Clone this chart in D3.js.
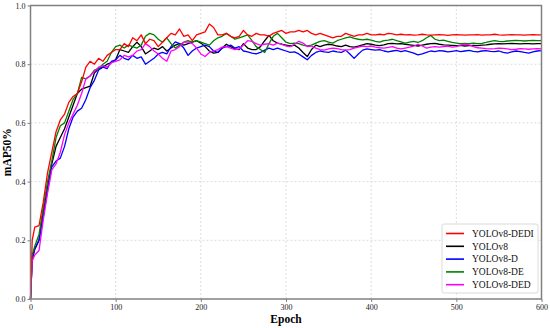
<!DOCTYPE html>
<html>
<head>
<meta charset="utf-8">
<script src="https://cdn.jsdelivr.net/npm/d3@7"></script>
<style>
  body { margin: 0; background: #fff; }
  svg { display: block; }
</style>
</head>
<body>
<div id="chart"></div>
<script>
// epochs sampled from the curves (0, 2, then every 5)
const epochs = [0, 2].concat(d3.range(5, 601, 5));

const dedi = [
  0, 0.20, 0.245, 0.25, 0.33, 0.43, 0.50, 0.57, 0.61, 0.63,
  0.67, 0.69, 0.70, 0.74, 0.79, 0.81, 0.80, 0.82, 0.81, 0.83,
  0.84, 0.85, 0.85, 0.87, 0.86, 0.89, 0.88, 0.90, 0.87, 0.885,
  0.88, 0.86, 0.875, 0.89, 0.905, 0.90, 0.92, 0.895, 0.90, 0.88,
  0.90, 0.905, 0.91, 0.937, 0.925, 0.90, 0.90, 0.905, 0.895, 0.89,
  0.895, 0.915, 0.90, 0.895, 0.905, 0.90, 0.90, 0.895, 0.905, 0.91,
  0.915, 0.905, 0.91, 0.91, 0.915, 0.91, 0.915, 0.905, 0.90, 0.905,
  0.90, 0.895, 0.89, 0.895, 0.895, 0.905, 0.90, 0.895, 0.90, 0.90,
  0.905, 0.90, 0.90, 0.902, 0.90, 0.905, 0.903, 0.90, 0.902, 0.90,
  0.901, 0.899, 0.90, 0.902, 0.90, 0.899, 0.90, 0.901, 0.90, 0.898,
  0.90, 0.901, 0.90, 0.899, 0.90, 0.90, 0.901, 0.899, 0.90, 0.90,
  0.902, 0.90, 0.899, 0.90, 0.901, 0.90, 0.90, 0.899, 0.90, 0.901,
  0.90, 0.90
];
const v8 = [
  0, 0.14, 0.17, 0.20, 0.30, 0.38, 0.46, 0.52, 0.55, 0.58,
  0.62, 0.66, 0.70, 0.715, 0.72, 0.725, 0.77, 0.785, 0.79, 0.80,
  0.805, 0.815, 0.85, 0.845, 0.84, 0.86, 0.875, 0.86, 0.835, 0.845,
  0.855, 0.85, 0.86, 0.845, 0.855, 0.865, 0.87, 0.865, 0.87, 0.875,
  0.88, 0.872, 0.86, 0.845, 0.838, 0.84, 0.855, 0.868, 0.86, 0.852,
  0.85, 0.87, 0.855, 0.85, 0.85, 0.86, 0.88, 0.898, 0.88, 0.872,
  0.868, 0.865, 0.862, 0.865, 0.855, 0.84, 0.826, 0.85, 0.865, 0.86,
  0.865, 0.868, 0.866, 0.862, 0.86, 0.865, 0.86, 0.858, 0.862, 0.866,
  0.87, 0.868, 0.865, 0.863, 0.866, 0.87, 0.871, 0.869, 0.87, 0.868,
  0.866, 0.864, 0.862, 0.865, 0.868, 0.87, 0.871, 0.868, 0.866, 0.865,
  0.864, 0.863, 0.864, 0.862, 0.863, 0.864, 0.863, 0.865, 0.866, 0.868,
  0.869, 0.87, 0.869, 0.87, 0.871, 0.87, 0.869, 0.87, 0.87, 0.869,
  0.87, 0.87
];
const d = [
  0, 0.13, 0.17, 0.20, 0.28, 0.37, 0.45, 0.47, 0.48, 0.52,
  0.58, 0.62, 0.64, 0.65, 0.68, 0.72, 0.745, 0.78, 0.79, 0.785,
  0.81, 0.815, 0.83, 0.82, 0.815, 0.83, 0.82, 0.825, 0.80, 0.81,
  0.82, 0.835, 0.84, 0.835, 0.86, 0.876, 0.87, 0.855, 0.83, 0.845,
  0.855, 0.86, 0.865, 0.86, 0.845, 0.84, 0.855, 0.86, 0.865, 0.855,
  0.86, 0.845, 0.842, 0.838, 0.835, 0.84, 0.848, 0.855, 0.85, 0.855,
  0.85, 0.845, 0.84, 0.842, 0.835, 0.825, 0.815, 0.83, 0.84, 0.845,
  0.842, 0.84, 0.845, 0.842, 0.84, 0.848, 0.835, 0.82, 0.835, 0.848,
  0.852, 0.85, 0.848, 0.85, 0.845, 0.842, 0.845, 0.847, 0.843, 0.846,
  0.842, 0.838, 0.832, 0.835, 0.84, 0.845, 0.843, 0.846, 0.845, 0.842,
  0.844, 0.846, 0.843, 0.845, 0.847, 0.844, 0.842, 0.845, 0.846, 0.844,
  0.843, 0.845, 0.84, 0.838, 0.842, 0.845, 0.843, 0.84, 0.838, 0.842,
  0.845, 0.846
];
const de = [
  0, 0.15, 0.18, 0.22, 0.31, 0.40, 0.47, 0.55, 0.59, 0.60,
  0.64, 0.68, 0.70, 0.755, 0.75, 0.76, 0.78, 0.785, 0.80, 0.81,
  0.84, 0.86, 0.865, 0.855, 0.865, 0.86, 0.855, 0.865, 0.895, 0.905,
  0.90, 0.885, 0.875, 0.89, 0.87, 0.855, 0.865, 0.875, 0.88, 0.875,
  0.88, 0.875, 0.87, 0.865, 0.88, 0.89, 0.895, 0.905, 0.895, 0.885,
  0.89, 0.895, 0.90, 0.88, 0.86, 0.85, 0.84, 0.87, 0.895, 0.905,
  0.89, 0.875, 0.87, 0.872, 0.87, 0.865, 0.862, 0.865, 0.872, 0.878,
  0.88, 0.875, 0.872, 0.88, 0.885, 0.89, 0.893, 0.888, 0.885, 0.883,
  0.885, 0.882, 0.878, 0.875, 0.88, 0.882, 0.885, 0.88, 0.876, 0.872,
  0.875, 0.878, 0.874, 0.88, 0.89, 0.898, 0.885, 0.88, 0.882, 0.878,
  0.874, 0.872, 0.87, 0.871, 0.87, 0.872, 0.87, 0.871, 0.874, 0.878,
  0.88, 0.878, 0.877, 0.879, 0.88, 0.881, 0.88, 0.879, 0.88, 0.881,
  0.88, 0.88
];
const ded = [
  0, 0.13, 0.15, 0.165, 0.27, 0.36, 0.44, 0.46, 0.50, 0.56,
  0.60, 0.63, 0.66, 0.70, 0.75, 0.76, 0.775, 0.79, 0.795, 0.79,
  0.805, 0.81, 0.815, 0.83, 0.825, 0.83, 0.845, 0.85, 0.87, 0.86,
  0.845, 0.835, 0.82, 0.81, 0.845, 0.85, 0.86, 0.875, 0.876, 0.87,
  0.855, 0.835, 0.826, 0.84, 0.845, 0.85, 0.858, 0.86, 0.855, 0.85,
  0.852, 0.865, 0.88, 0.878, 0.87, 0.865, 0.868, 0.87, 0.865, 0.872,
  0.868, 0.862, 0.86, 0.868, 0.878, 0.872, 0.86, 0.862, 0.855, 0.85,
  0.848, 0.852, 0.855, 0.853, 0.85, 0.848, 0.85, 0.855, 0.858, 0.862,
  0.86, 0.862, 0.858, 0.856, 0.855, 0.857, 0.86, 0.855, 0.852, 0.855,
  0.858, 0.862, 0.868, 0.862, 0.855, 0.858, 0.86, 0.858, 0.86, 0.862,
  0.858, 0.86, 0.865, 0.868, 0.866, 0.86, 0.856, 0.855, 0.853, 0.852,
  0.853, 0.855, 0.854, 0.852, 0.85, 0.851, 0.853, 0.852, 0.851, 0.852,
  0.853, 0.852
];

const legendNames = ["YOLOv8-DEDI", "YOLOv8", "YOLOv8-D", "YOLOv8-DE", "YOLOv8-DED"];
const legendColors = ["#ff0000", "#000000", "#0000ff", "#008000", "#ff00ff"];
const seriesValues = [dedi, v8, d, de, ded];
const drawOrder = [1, 2, 3, 4, 0];

const xTicks = [0, 100, 200, 300, 400, 500, 600];
const yTicks = [0, 0.2, 0.4, 0.6, 0.8, 1.0];

const width = 550, height = 328;
const margin = { top: 5.5, right: 8.5, bottom: 29, left: 30.5 };
const font = "'Liberation Serif', 'Times New Roman', serif";

const svg = d3.select("#chart").append("svg")
  .attr("width", width)
  .attr("height", height);

const x = d3.scaleLinear().domain([0, 600]).range([margin.left, width - margin.right]);
const y = d3.scaleLinear().domain([0, 1]).range([height - margin.bottom, margin.top]);

// grid
svg.append("g")
  .selectAll("line")
  .data(xTicks.slice(1, -1))
  .join("line")
  .attr("x1", v => x(v)).attr("x2", v => x(v))
  .attr("y1", y(0)).attr("y2", y(1))
  .attr("stroke", "#d4d4d4").attr("stroke-width", 0.8)
  .attr("stroke-dasharray", "2,2");

svg.append("g")
  .selectAll("line")
  .data(yTicks.slice(1, -1))
  .join("line")
  .attr("x1", x(0)).attr("x2", x(600))
  .attr("y1", v => y(v)).attr("y2", v => y(v))
  .attr("stroke", "#d4d4d4").attr("stroke-width", 0.8)
  .attr("stroke-dasharray", "2,2");

// lines
const line = d3.line()
  .defined(v => v != null)
  .x((v, i) => x(epochs[i]))
  .y(v => y(v));

svg.append("g")
  .selectAll("path")
  .data(drawOrder)
  .join("path")
  .attr("d", k => line(seriesValues[k]))
  .attr("fill", "none")
  .attr("stroke", k => legendColors[k])
  .attr("stroke-width", 1.3)
  .attr("stroke-linejoin", "round");

// frame
svg.append("rect")
  .attr("x", x(0)).attr("y", y(1))
  .attr("width", x(600) - x(0))
  .attr("height", y(0) - y(1))
  .attr("fill", "none")
  .attr("stroke", "#808080")
  .attr("stroke-width", 1.5);

// axes
const xAxis = svg.append("g")
  .attr("transform", `translate(0,${y(0)})`)
  .call(d3.axisBottom(x).tickValues(xTicks).tickFormat(d3.format("d")).tickSize(3).tickPadding(2));
const yAxis = svg.append("g")
  .attr("transform", `translate(${x(0)},0)`)
  .call(d3.axisLeft(y).tickValues(yTicks).tickFormat(d3.format(".1f")).tickSize(3).tickPadding(2));

[xAxis, yAxis].forEach(g => {
  g.select(".domain").remove();
  g.selectAll(".tick line").attr("stroke", "#808080");
  g.selectAll(".tick text")
    .attr("fill", "#222")
    .style("font-family", font)
    .style("font-size", "8px");
});

svg.append("text")
  .attr("x", x(300))
  .attr("y", 323)
  .attr("text-anchor", "middle")
  .style("font-family", font)
  .style("font-weight", "bold")
  .style("font-size", "11.5px")
  .text("Epoch");

svg.append("text")
  .attr("transform", `translate(11,${(y(0) + y(1)) / 2}) rotate(-90)`)
  .attr("text-anchor", "middle")
  .style("font-family", font)
  .style("font-weight", "bold")
  .style("font-size", "11.5px")
  .text("mAP50%");

// legend
const legend = svg.append("g").attr("transform", "translate(442,224)");
legend.append("rect")
  .attr("width", 96).attr("height", 69)
  .attr("rx", 2)
  .attr("fill", "#fff")
  .attr("fill-opacity", 0.85)
  .attr("stroke", "#d0d0d0")
  .attr("stroke-width", 0.8);

const items = legend.selectAll("g.item")
  .data(legendNames)
  .join("g")
  .attr("class", "item")
  .attr("transform", (n, i) => `translate(0,${9.5 + i * 12.8})`);

items.append("line")
  .attr("x1", 4).attr("x2", 22)
  .attr("stroke", (n, i) => legendColors[i])
  .attr("stroke-width", 1.6);

items.append("text")
  .attr("x", 30)
  .attr("dy", "0.35em")
  .style("font-family", font)
  .style("font-size", "9.5px")
  .attr("fill", "#111")
  .text(n => n);
</script>
</body>
</html>
